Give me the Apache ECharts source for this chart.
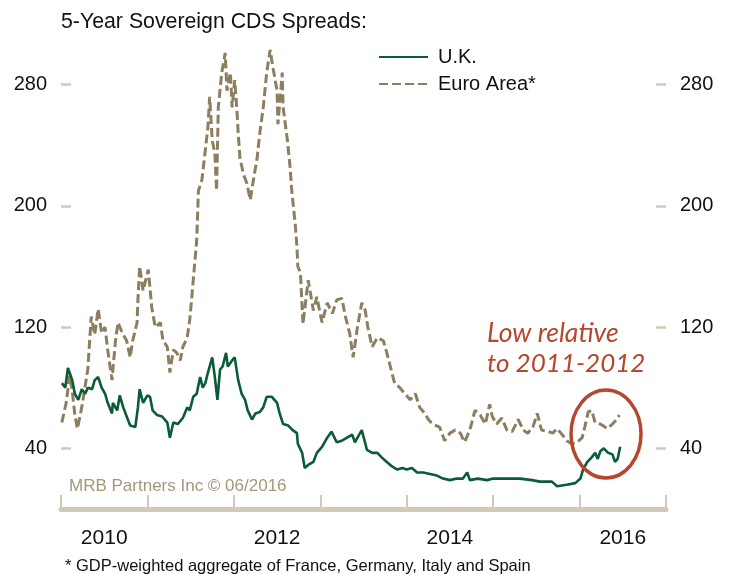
<!DOCTYPE html>
<html><head><meta charset="utf-8">
<script src="https://cdn.jsdelivr.net/npm/echarts@6/dist/echarts.min.js"></script>
<style>html,body{margin:0;padding:0;background:#fff}#c{width:735px;height:574px}</style>
</head><body><div id="c"></div>
<script>
// Dates as decimal years
const ukDates = [2010.01,2010.05,2010.08,2010.13,2010.16,2010.20,2010.24,2010.28,2010.31,2010.36,
2010.39,2010.43,2010.47,2010.51,2010.54,2010.59,2010.60,2010.65,2010.68,2010.72,
2010.76,2010.80,2010.86,2010.89,2010.91,2010.95,2011.00,2011.03,2011.06,2011.11,
2011.17,2011.23,2011.26,2011.30,2011.35,2011.41,2011.46,2011.49,2011.53,2011.57,
2011.61,2011.64,2011.67,2011.70,2011.75,2011.78,2011.81,2011.84,2011.87,2011.91,
2011.93,2011.98,2012.01,2012.05,2012.09,2012.13,2012.16,2012.21,2012.25,2012.30,
2012.34,2012.38,2012.44,2012.50,2012.53,2012.57,2012.63,2012.68,2012.73,2012.74,
2012.79,2012.82,2012.86,2012.92,2012.96,2013.02,2013.08,2013.13,2013.19,2013.25,
2013.31,2013.37,2013.40,2013.48,2013.54,2013.60,2013.66,2013.71,2013.77,2013.83,
2013.89,2013.95,2014.00,2014.06,2014.12,2014.19,2014.27,2014.35,2014.42,2014.50,
2014.58,2014.65,2014.70,2014.73,2014.82,2014.93,2015.00,2015.08,2015.20,2015.31,
2015.45,2015.54,2015.68,2015.74,2015.85,2015.95,2016.01,2016.04,2016.09,2016.14,
2016.18,2016.21,2016.24,2016.28,2016.33,2016.38,2016.41,2016.44,2016.47];
const ukValues = [83,80,93,85,76,72,79,76,80,79,
85,87,80,76,70,63,70,65,75,67,
61,55,54,67,79,70,75,74,65,62,
61,57,47,57,56,60,67,65,74,76,
87,80,83,90,100,87,72,92,94,103,
94,98,100,85,76,72,65,59,63,64,
67,74,74,70,63,56,55,52,50,43,
37,27,29,31,37,41,47,51,44,45,
47,49,44,52,39,37,37,34,31,28,
26,27,26,27,24,24,23,22,20,19,
20,20,24,19,20,19,20,20,20,20,
19,18,18,15,16,17,20,26,31,34,
37,33,38,40,37,36,31,33,41];

const euDates = [2010.01,2010.06,2010.10,2010.13,2010.16,2010.19,2010.24,2010.31,2010.35,2010.39,
2010.43,2010.47,2010.51,2010.54,2010.59,2010.63,2010.66,2010.71,2010.76,2010.80,
2010.83,2010.88,2010.89,2010.91,2010.95,2011.01,2011.05,2011.09,2011.15,2011.18,
2011.23,2011.26,2011.30,2011.34,2011.38,2011.41,2011.46,2011.49,2011.52,2011.55,
2011.57,2011.59,2011.63,2011.67,2011.70,2011.72,2011.75,2011.78,2011.80,2011.82,
2011.86,2011.90,2011.92,2011.96,2011.98,2012.01,2012.04,2012.05,2012.07,2012.11,
2012.15,2012.19,2012.22,2012.27,2012.30,2012.34,2012.38,2012.42,2012.45,2012.50,
2012.51,2012.56,2012.57,2012.62,2012.65,2012.67,2012.71,2012.73,2012.74,2012.77,
2012.80,2012.86,2012.92,2012.96,2013.02,2013.08,2013.14,2013.19,2013.25,2013.29,
2013.34,2013.38,2013.43,2013.48,2013.52,2013.55,2013.60,2013.66,2013.73,2013.77,
2013.81,2013.86,2013.92,2013.98,2014.04,2014.10,2014.15,2014.21,2014.25,2014.30,
2014.38,2014.44,2014.50,2014.56,2014.62,2014.67,2014.73,2014.79,2014.85,2014.91,
2014.96,2014.99,2015.04,2015.10,2015.16,2015.22,2015.29,2015.35,2015.40,2015.46,
2015.51,2015.56,2015.64,2015.69,2015.74,2015.80,2015.85,2015.91,2015.97,2016.03,
2016.06,2016.10,2016.14,2016.18,2016.24,2016.32,2016.38,2016.43,2016.46];
const euValues = [57,70,88,78,62,53,67,92,127,115,
132,116,120,105,85,111,123,116,111,100,
111,123,138,160,144,158,133,120,123,111,
107,90,105,103,98,107,113,125,144,164,
177,210,217,237,252,272,243,235,210,265,
288,301,276,288,265,283,259,248,232,221,
215,204,215,232,248,265,288,303,292,276,
254,288,265,243,226,210,188,173,160,156,
122,151,131,140,123,136,129,138,139,127,
116,100,120,136,131,120,107,113,111,103,
94,83,80,76,72,76,67,63,59,56,
54,45,50,52,50,44,52,65,62,56,
69,61,56,60,52,51,59,52,50,54,
63,52,51,50,53,49,45,43,44,47,
54,64,65,57,56,53,56,59,62];

const yTicks = [40, 120, 200, 280];
const xLabelYears = [2010, 2012, 2014, 2016];

const FONT = '"Liberation Sans", Arial, sans-serif';
const AXIS = '#d2cab6';
const GREEN = '#0a5c36';
const TAUPE = '#8c7e5f';
const RED = '#b5472c';

const chart = echarts.init(document.getElementById('c'));
const ukData = ukDates.map((d, i) => [d, ukValues[i]]);
const euData = euDates.map((d, i) => [d, euValues[i]]);

const yAxisCommon = {
  type: 'value', min: 0, max: 320,
  splitLine: { show: false },
  axisLine: { show: false },
  axisTick: { show: true, inside: true, length: 10, customValues: yTicks, lineStyle: { color: AXIS, width: 2.5 } },
  axisLabel: { customValues: yTicks, margin: 14, color: '#111', fontSize: 20, fontFamily: FONT }
};

chart.setOption({
  animation: false,
  backgroundColor: '#fff',
  title: {
    text: '5-Year Sovereign CDS Spreads:', left: 61, top: 12, padding: 0,
    textStyle: { fontSize: 21.3, fontWeight: 'normal', color: '#111', fontFamily: FONT }
  },
  legend: {
    orient: 'vertical', left: 378, top: 47, padding: 0, itemWidth: 49, itemHeight: 14, itemGap: 7,
    itemStyle: { color: 'rgba(0,0,0,0)', borderColor: 'rgba(0,0,0,0)', borderWidth: 0, opacity: 0 },
    textStyle: { fontSize: 20, color: '#111', fontFamily: FONT, lineHeight: 20, padding: [0, 0, 0, 5] },
    data: ['U.K.', 'Euro Area*']
  },
  grid: { left: 61, right: 69, top: 24.1, bottom: 65.1 },
  xAxis: [{
    type: 'value', min: 2010, max: 2017, interval: 1, offset: 2,
    axisLine: { show: true, lineStyle: { color: AXIS, width: 5 } },
    axisTick: { show: true, inside: true, length: 14, lineStyle: { color: AXIS, width: 2 } },
    axisLabel: { show: false }, splitLine: { show: false }
  }, {
    type: 'value', min: 2010, max: 2017, interval: 0.5, offset: 2, position: 'bottom',
    axisLine: { show: false }, axisTick: { show: false }, splitLine: { show: false },
    axisLabel: {
      interval: 0, margin: 17, color: '#111', fontSize: 21, fontFamily: FONT,
      formatter: v => {
        const y = Math.floor(v + 1e-9);
        return (Math.abs(v - y - 0.5) < 1e-6 && xLabelYears.indexOf(y) >= 0) ? String(y) : '';
      }
    }
  }],
  yAxis: [Object.assign({ position: 'left' }, yAxisCommon), Object.assign({ position: 'right' }, yAxisCommon)],
  series: [{
    name: 'U.K.', type: 'line', data: ukData, showSymbol: false, symbol: 'none',
    xAxisIndex: 0, yAxisIndex: 0, z: 3,
    lineStyle: { color: GREEN, width: 2.6 }, itemStyle: { color: GREEN }
  }, {
    name: 'Euro Area*', type: 'line', data: euData, showSymbol: false, symbol: 'none',
    xAxisIndex: 0, yAxisIndex: 0, z: 2,
    lineStyle: { color: TAUPE, width: 3, type: [9, 4] }, itemStyle: { color: TAUPE }
  }]
});

// Annotation positioned from data coordinates
const toPx = p => chart.convertToPixel({ xAxisIndex: 0, yAxisIndex: 0 }, p);
const ellC = toPx([2016.306, 49.4]);
const ellE = toPx([2016.306 + 0.405, 49.4 + 29]);
const txt1 = toPx([2014.93, 116]);
const txt2 = toPx([2014.93, 96]);

chart.setOption({
  graphic: [
    { type: 'ellipse', shape: { cx: ellC[0], cy: ellC[1], rx: ellE[0] - ellC[0], ry: ellC[1] - ellE[1] },
      style: { fill: 'none', stroke: RED, lineWidth: 3.5 }, z: 10 },
    { type: 'text', x: txt1[0], y: txt1[1],
      style: { text: 'Low relative', fill: RED, font: 'italic 26.5px Lato, "Open Sans", sans-serif', textVerticalAlign: 'middle' }, z: 10 },
    { type: 'text', x: txt2[0], y: txt2[1],
      style: { text: 'to 2011-2012', fill: RED, font: 'italic 26px Lato, "Open Sans", sans-serif', textVerticalAlign: 'middle' }, z: 10 },
    { type: 'text', left: 69, top: 478,
      style: { text: 'MRB Partners Inc \u00A9 06/2016', fill: '#a4977c', font: '17px "Liberation Sans", Arial, sans-serif' }, z: 10 },
    { type: 'text', left: 65, top: 558,
      style: { text: '* GDP-weighted aggregate of France, Germany, Italy and Spain', fill: '#111', font: '16.5px "Liberation Sans", Arial, sans-serif' }, z: 10 }
  ]
});
</script></body></html>
